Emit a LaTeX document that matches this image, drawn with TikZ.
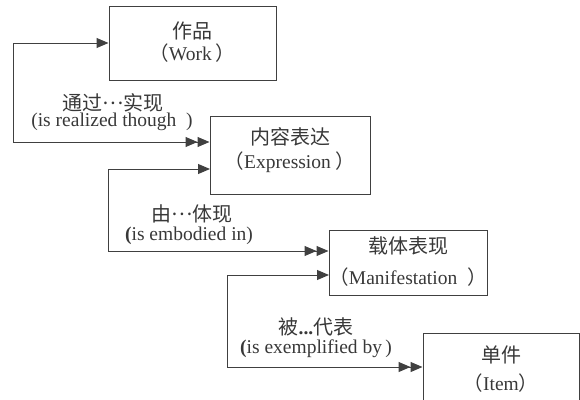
\documentclass[tikz,border=0pt]{standalone}
\usepackage{fontspec}
\setmainfont{Liberation Serif}
\newfontfamily\cjk{Noto Sans CJK SC}
\usetikzlibrary{arrows.meta}
\definecolor{ink}{HTML}{404040}
\definecolor{txt}{HTML}{383838}
\newcommand{\cdotsc}{\raisebox{0.3em}{…}}
\begin{document}
\begin{tikzpicture}[x=1pt,y=-1pt,
  box/.style={draw=ink,line width=1pt,rectangle,inner sep=0pt},
  lbl/.style={text=txt,inner sep=0pt,font=\fontsize{19.5}{22}\selectfont},
  link/.style={draw=ink,line width=1pt,
    {Triangle[length=12pt,width=10pt]Triangle[length=12pt,width=10pt]}-{Triangle[length=12pt,width=10pt]}}]
\clip (0,0) rectangle (580,399);
% boxes
\node[box,minimum width=167pt,minimum height=74pt] (work) at (192.5,43) {};
\node[box,minimum width=160pt,minimum height=78pt] (expr) at (290,155) {};
\node[box,minimum width=158pt,minimum height=65pt] (man) at (408,262.5) {};
\node[box,minimum width=156pt,minimum height=77pt] (item) at (501,371.5) {};
% box texts
\node[lbl] (w1) at (192,31) {\cjk\fontsize{20}{22}\selectfont 作品};
\node[lbl] (w2) at (192,53) {{\cjk （}Work\,{\cjk ）}};
\node[lbl] (e1) at (290,137) {\cjk\fontsize{20}{22}\selectfont 内容表达};
\node[lbl] (e2) at (290,162) {{\cjk （}Expression\ {\cjk ）}};
\node[lbl] (m1) at (408,246) {\cjk\fontsize{20}{22}\selectfont 载体表现};
\node[lbl] (m2) at (408,277) {{\cjk （}Manifestation\ \ {\cjk ）}};
\node[lbl] (i1) at (501,355) {\cjk\fontsize{20}{22}\selectfont 单件};
\node[lbl] (i2) at (501,383) {{\cjk （}Item{\cjk ）}};
% connector labels
\node[lbl] (a1) at (113,103) {\cjk\fontsize{20}{22}\selectfont 通过\cdotsc 实现};
\node[lbl] (a2) at (112,122) {(is realized though\ \ )};
\node[lbl] (b1) at (192,214) {\cjk\fontsize{20}{22}\selectfont 由\cdotsc 体现};
\node[lbl] (b2) at (189,236) {\textbf{(}is embodied in)};
\node[lbl] (c1) at (316,327) {{\cjk\fontsize{20}{22}\selectfont 被}\textbf{...}{\cjk\fontsize{20}{22}\selectfont 代表}};
\node[lbl] (c2) at (316,349) {\textbf{(}is exemplified by\,)};
% corners
\coordinate (L1) at (13,142);
\coordinate (L2) at (108,251);
\coordinate (L3) at (227,367);
\coordinate (T2) at (210,169);
\coordinate (T3) at (329,275);
% connectors
\draw[link] (expr.west |- L1) -- (L1) |- (work.west);
\draw[link] (man.west |- L2) -- (L2) |- (T2);
\draw[link] (item.west |- L3) -- (L3) |- (T3);
\end{tikzpicture}
\end{document}
